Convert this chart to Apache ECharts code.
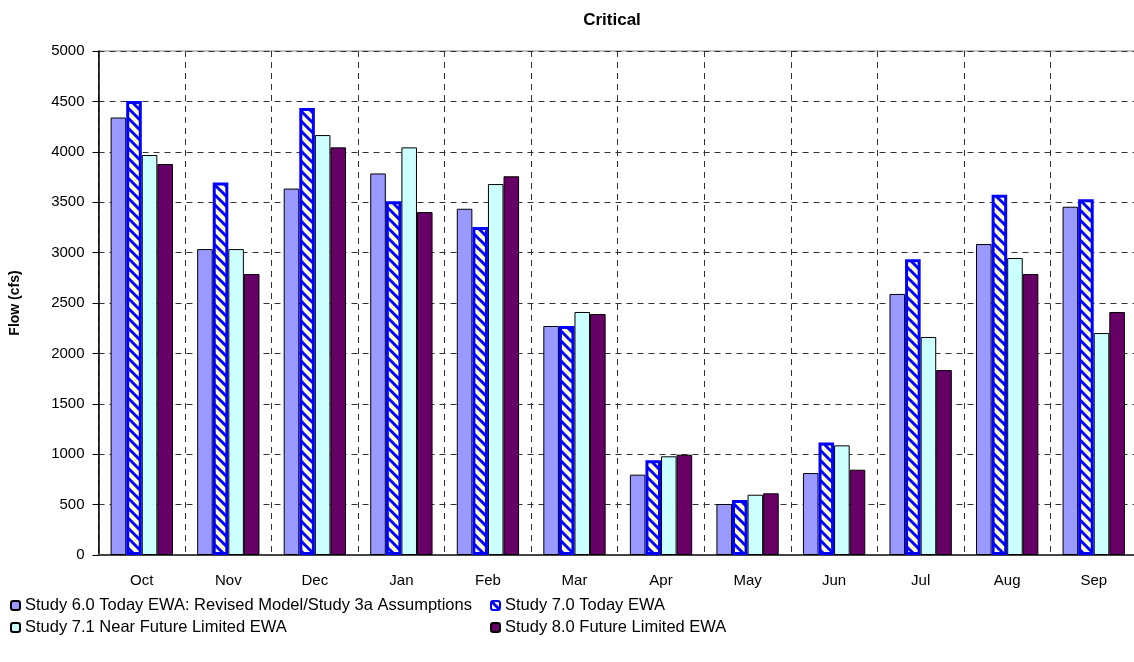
<!DOCTYPE html>
<html>
<head>
<meta charset="utf-8">
<script src="https://cdn.jsdelivr.net/npm/echarts@6/dist/echarts.min.js"></script>
<style>
html, body { margin: 0; padding: 0; background: #fff; overflow: hidden; }
/* 图表右侧略超出窗口, 与原图一样被裁掉 */
#chart { width: 1140px; height: 662px; }
</style>
</head>
<body>
<div id="chart"></div>
<script>
// 月份
let months = ['Oct', 'Nov', 'Dec', 'Jan', 'Feb', 'Mar', 'Apr', 'May', 'Jun', 'Jul', 'Aug', 'Sep'];
let seriesNames = [
    'Study 6.0 Today EWA: Revised Model/Study 3a Assumptions',
    'Study 7.0 Today EWA',
    'Study 7.1 Near Future Limited EWA',
    'Study 8.0 Future Limited EWA'
];
let study60 = [4340, 3035, 3635, 3785, 3435, 2272, 797, 506, 813, 2590, 3085, 3455];
let study70 = [4505, 3695, 4435, 3510, 3255, 2272, 940, 545, 1115, 2935, 3575, 3530];
let study71 = [3968, 3035, 4166, 4044, 3680, 2411, 979, 598, 1088, 2163, 2946, 2202];
let study80 = [3879, 2788, 4044, 3402, 3757, 2391, 995, 612, 846, 1835, 2788, 2411];
let yTicks = [0, 5000, 500]; // min, max, interval

let fontFamily = 'Liberation Sans, Arial, sans-serif';
let gridLineColor = '#333';

// 斜纹填充
function makeHatch() {
    let size = 10;
    let cv = document.createElement('canvas');
    cv.width = size;
    cv.height = size;
    let ctx = cv.getContext('2d');
    ctx.fillStyle = '#FFFFC8';
    ctx.fillRect(0, 0, size, size);
    ctx.strokeStyle = '#0000FF';
    ctx.lineWidth = 3;
    for (let c = -size; c <= size; c += size) {
        ctx.beginPath();
        ctx.moveTo(-2, c - 2);
        ctx.lineTo(size + 2, c + size + 2);
        ctx.stroke();
    }
    return cv;
}

let hatch = { image: makeHatch(), repeat: 'repeat' };

function barSeries(name, data, fill, border, borderWidth) {
    return {
        type: 'bar',
        name: name,
        data: data,
        barGap: '0%',
        barCategoryGap: '28%',
        itemStyle: {
            color: fill,
            borderColor: border,
            borderWidth: borderWidth
        },
        emphasis: { disabled: true }
    };
}

let legendText = { fontSize: 16.5, color: '#000', fontFamily: fontFamily, padding: [0, 0, 0, 0] };

let myChart = echarts.init(document.getElementById('chart'));

let option = {
    animation: false,
    textStyle: { fontFamily: fontFamily },
    title: {
        text: 'Critical',
        left: 607,
        top: 7,
        textAlign: 'center',
        textStyle: { fontSize: 17, fontWeight: 'bold', color: '#000', fontFamily: fontFamily }
    },
    grid: {
        left: 98.5,
        top: 51,
        right: 3,
        bottom: 107,
        show: true,
        borderColor: '#888',
        borderWidth: 1
    },
    legend: [
        {
            orient: 'vertical',
            left: 10,
            top: 597,
            padding: 0,
            itemWidth: 9,
            itemHeight: 9,
            itemGap: 5,
            textStyle: legendText,
            data: [seriesNames[0], seriesNames[2]],
            selectedMode: false
        },
        {
            orient: 'vertical',
            left: 490,
            top: 597,
            padding: 0,
            itemWidth: 9,
            itemHeight: 9,
            itemGap: 5,
            textStyle: legendText,
            data: [seriesNames[1], seriesNames[3]],
            selectedMode: false
        }
    ],
    xAxis: {
        type: 'category',
        data: months,
        axisLine: { lineStyle: { color: '#444', width: 2 } },
        axisTick: { length: 6, lineStyle: { color: '#444' } },
        axisLabel: { fontSize: 15, color: '#000', margin: 18, fontFamily: fontFamily },
        splitLine: { show: true, lineStyle: { color: gridLineColor, type: [6, 5], width: 1 } }
    },
    yAxis: {
        type: 'value',
        min: yTicks[0],
        max: yTicks[1],
        interval: yTicks[2],
        name: 'Flow (cfs)',
        nameLocation: 'middle',
        nameGap: 76,
        nameTextStyle: { fontSize: 14, fontWeight: 'bold', color: '#000', fontFamily: fontFamily },
        axisLine: { show: true, lineStyle: { color: '#000', width: 1.5 } },
        axisTick: { show: true, length: 6, lineStyle: { color: '#000' } },
        axisLabel: {
            fontSize: 15,
            color: '#000',
            margin: 14,
            fontFamily: fontFamily,
            formatter: (v) => String(v)
        },
        splitLine: { show: true, lineStyle: { color: gridLineColor, type: [6, 5], width: 1 } }
    },
    series: [
        barSeries(seriesNames[0], study60, '#9999FF', '#000', 1),
        barSeries(seriesNames[1], study70, hatch, '#0000FF', 3),
        barSeries(seriesNames[2], study71, '#CCFFFF', '#000', 1),
        barSeries(seriesNames[3], study80, '#660066', '#000', 1)
    ]
};

myChart.setOption(option, true);
</script>
</body>
</html>
